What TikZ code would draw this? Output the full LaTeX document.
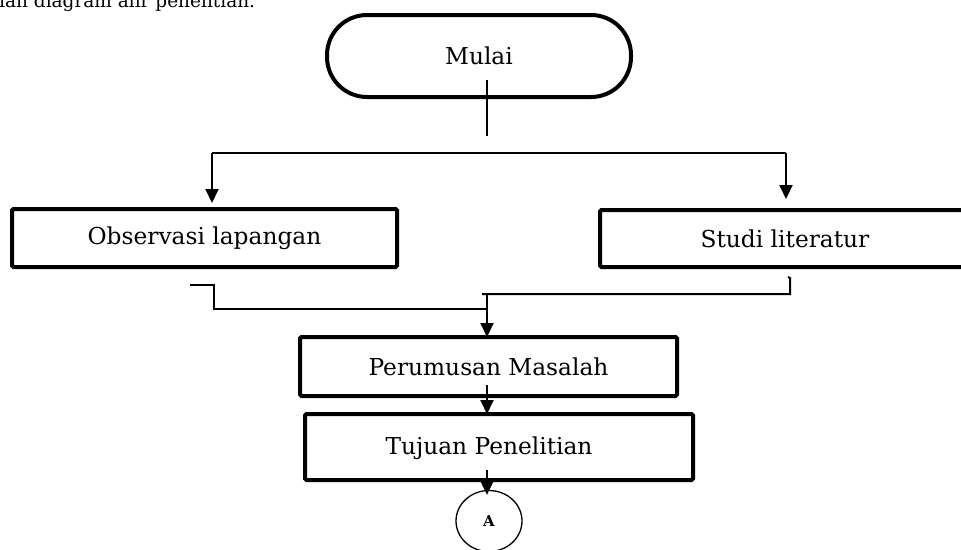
\documentclass[tikz,border=0pt]{standalone}
\usepackage{fontspec}
\setmainfont{DejaVu Serif}
\usetikzlibrary{arrows.meta,shapes.geometric}
\begin{document}
\begin{tikzpicture}[x=1pt,y=-1pt,
  box/.style={draw, line width=4pt, inner sep=0pt, rounded corners=1.5pt, font=\fontsize{23.3}{27}\selectfont},
  lbl/.style={inner sep=0pt, font=\fontsize{23.3}{27}\selectfont},
  conn/.style={line width=2pt},
  arr/.style={conn, -{Triangle[length=14pt,width=13pt]}},
]
\useasboundingbox (0,0) rectangle (961,549);
\clip (0,0) rectangle (961,549);
\node[anchor=base west, font=\fontsize{18.5}{20}\selectfont, inner sep=0pt] (intro) at (-1,7.5) {ian diagram alir penelitian.};
\node[box, rounded corners=40pt, minimum width=304pt, minimum height=82pt] (start) at (479,56) {Mulai};
\node[box, minimum width=385pt, minimum height=58pt] (obs) at (204.5,238) {Observasi lapangan};
\node[box, minimum width=370pt, minimum height=57pt] (stu) at (785,238.5) {Studi literatur};
\node[box, minimum width=377pt, minimum height=59pt] (per) at (488.5,366.5) {Perumusan Masalah};
\node[box, minimum width=388pt, minimum height=66pt] (tuj) at (499,447) {};
\node[lbl] (tujt) at (489,448) {Tujuan Penelitian};
\node[draw, ellipse, line width=1.3pt, inner sep=0pt, minimum width=66pt, minimum height=61pt, font=\fontsize{15}{17}\selectfont\bfseries] (conA) at (489,521) {A};
% connectors
\coordinate (s1) at (487,80);
\coordinate (s2) at (487,136);
\draw[conn] (s1) -- (s2);
\coordinate (hl) at (212,153);
\coordinate (hr) at (786,153);
\draw[conn] (hl) -- (hr);
\draw[arr, shorten >=4pt] (hl) -- (hl |- obs.north);
\draw[arr, shorten >=9pt] (hr) -- (hr |- stu.north);
\coordinate (mtop) at (487,293);
\coordinate (o1) at (190,285);
\coordinate (o2) at (214,309);
\draw[conn] (o1) -| (o2) -- (o2 -| mtop);
\coordinate (t0) at (788,277);
\coordinate (t1) at (790,294);
\coordinate (t2) at (482,294);
\draw[conn] (t0) -- (790,278) -- (t1) -- (t2);
\draw[arr, shorten >=-2pt] (mtop) -- (mtop |- per.north);
\coordinate (p1) at (487,385);
\draw[arr, shorten >=-2pt] (p1) -- (p1 |- tuj.north);
\coordinate (q1) at (487,470);
\draw[arr, shorten >=-5pt] (q1) -- (q1 |- conA.north);
\end{tikzpicture}
\end{document}
